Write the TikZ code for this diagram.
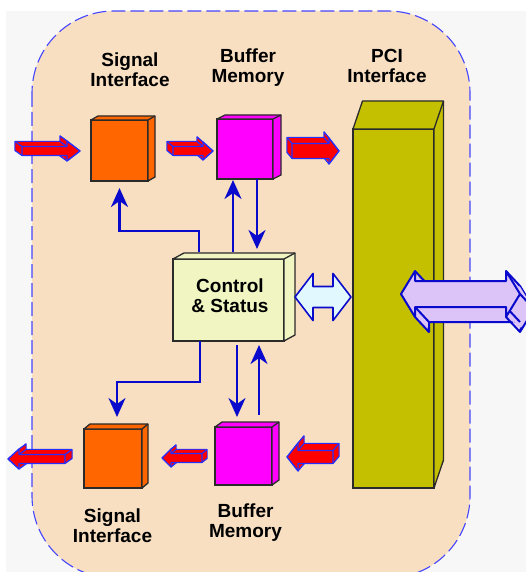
\documentclass[tikz,border=0pt]{standalone}
\usepackage{fontspec}
\setmainfont{Liberation Sans}
\usetikzlibrary{arrows.meta,calc}

\definecolor{peach}{HTML}{F8DFC2}
\definecolor{pagegrey}{HTML}{F7F7F7}
\definecolor{dashblue}{HTML}{4646FF}
\definecolor{boxedge}{HTML}{2A2A2A}
\definecolor{signalorange}{HTML}{FF6600}
\definecolor{buffermagenta}{HTML}{FF00FF}
\definecolor{pciolive}{HTML}{C4C000}
\definecolor{ctlpale}{HTML}{F0F5C2}
\definecolor{linkblue}{HTML}{0A0ACC}
\definecolor{arrowred}{HTML}{FF0000}
\definecolor{rimblue}{HTML}{2430FF}
\definecolor{busblue}{HTML}{E2F8FF}
\definecolor{buslilac}{HTML}{DCC4F8}

% top and side faces of a block drawn as a box
\newcommand\extrude[4]{%
  \filldraw[fill=#4, draw=boxedge, line width=1.3pt, line join=round]
    (#1.north west) -- ++(#2,#3) -- ([shift={(#2,#3)}]#1.north east)
    -- ([shift={(#2,#3)}]#1.south east) -- (#1.south east) -- (#1.north east) -- cycle;
  \draw[boxedge, line width=1.3pt] (#1.north east) -- ++(#2,#3);}

% solid red data arrow: tail point, direction, length, shaft half height,
% head half height, head length, depth x, depth y
\newcommand\solidarrow[8]{%
  \begin{scope}[shift={#1}, xscale=#2]
    \def\al{#3}\def\as{#4}\def\ah{#5}\def\ahl{#6}%
    \def\arrowoutline{(0,-\as) -- (\al-\ahl,-\as) -- (\al-\ahl,-\ah) -- (\al,0)
      -- (\al-\ahl,\ah) -- (\al-\ahl,\as) -- (0,\as) -- cycle}%
    \begin{scope}[shift={(-#7,-#8)}]\filldraw[rim] \arrowoutline;\end{scope}
    \foreach \stepno in {1,...,9}{%
      \begin{scope}[shift={(-\stepno*#7/10,-\stepno*#8/10)}]\fill[arrowred] \arrowoutline;\end{scope}}
    \foreach \vx/\vy in {0/-\as, \al-\ahl/-\as, \al-\ahl/-\ah, \al/0, \al-\ahl/\ah, \al-\ahl/\as, 0/\as}
      {\draw[rimline] (\vx,\vy) -- ++(-#7,-#8);}
    \filldraw[rim] \arrowoutline;
  \end{scope}}

\begin{document}
\begin{tikzpicture}[x=1pt,y=-1pt,
  block/.style 2 args={draw=boxedge, line width=1.3pt, inner sep=0pt, outer sep=0pt,
    minimum width=#1pt, minimum height=#2pt},
  caption/.style={font=\fontsize{19}{20}\selectfont\bfseries, align=center, inner sep=0pt},
  conn/.style={draw=linkblue, line width=2.8pt, -{Stealth[length=19pt,width=17pt,inset=6pt]}},
  rim/.style={fill=arrowred, draw=rimblue, line width=1.4pt, line join=round},
  rimline/.style={draw=rimblue, line width=1.2pt},
  bus/.style={fill=busblue, draw=linkblue, line width=1.6pt, line join=round},
  host/.style={fill=buslilac, draw=linkblue, line width=2pt, line join=round},
  hostline/.style={draw=linkblue, line width=2pt},
]
\useasboundingbox (0,0) rectangle (526,572);
\fill[white] (0,0) rectangle (526,572);
\fill[pagegrey] (6,11) rectangle (526,572);

% board outline
\path[fill=peach, draw=dashblue, dash pattern=on 14pt off 5pt, line width=1.1pt,
  rounded corners=82pt] (32,11) rectangle (470,578);

% blocks
\node[block={57}{61}, fill=signalorange] (sigA) at (119.5,150.5) {};
\extrude{sigA}{7}{-4}{signalorange}
\node[block={56}{60}, fill=buffermagenta] (bufA) at (245,149) {};
\extrude{bufA}{8}{-4}{buffermagenta}
\node[block={81}{359}, fill=pciolive] (pci) at (393.5,308.5) {};
\extrude{pci}{9.5}{-28}{pciolive}
\node[block={111}{82}, fill=ctlpale] (ctl) at (228.5,300) {};
\extrude{ctl}{11}{-6}{ctlpale}
\node[caption] (ctlText) at ([xshift=1.5pt,yshift=4pt]ctl.center) {Control\\\& Status};
\node[block={58}{59}, fill=signalorange] (sigB) at (113,458.5) {};
\extrude{sigB}{6}{-5}{signalorange}
\node[block={57}{58}, fill=buffermagenta] (bufB) at (243.5,456) {};
\extrude{bufB}{7}{-5}{buffermagenta}

% block names
\node[caption] (sigAname) at (130,70) {Signal\\Interface};
\node[caption] (bufAname) at (248,68) {Buffer\\Memory};
\node[caption] (pciname) at (387,66.2) {PCI\\Interface};
\node[caption] (sigBname) at (112.5,526) {Signal\\Interface};
\node[caption] (bufBname) at (245.5,523) {Buffer\\Memory};

% control links
\coordinate (c1) at ([xshift=-29.5pt,yshift=7pt]ctl.north);
\draw[conn, shorten >=7pt] (c1) -- ++(0,-21) -| (sigA.south);
\coordinate (c2) at ([xshift=4.5pt,yshift=7pt]ctl.north);
\draw[conn, shorten >=1pt] (c2) -- (c2 |- bufA.south);
\coordinate (c3) at ([xshift=12pt]bufA.south);
\draw[conn, shorten >=10pt] (c3) -- (c3 |- ctl.north);
\coordinate (c4) at ([xshift=-28.5pt]ctl.south);
\draw[conn, shorten >=12pt] (c4) -- ++(0,41) -| ([xshift=4pt]sigB.north);
\coordinate (c5) at ([xshift=8.5pt,yshift=-4pt]ctl.south);
\draw[conn, shorten >=10pt] (c5) -- (c5 |- bufB.north);
\coordinate (c6) at ([xshift=15.5pt,yshift=12pt]bufB.north);
\draw[conn, shorten >=4pt] (c6) -- (c6 |- ctl.south);

% data path
\solidarrow{($(sigA.west)+(-69,0.5)$)}{1}{58}{4.5}{10}{13}{7}{5}
\solidarrow{($(sigA.east)+(25,0.5)$)}{1}{40}{4.5}{9}{10}{6}{5}
\solidarrow{($(bufA.east)+(19,2)$)}{1}{47}{7.5}{13}{10}{5}{6}
\solidarrow{($(bufB.east)+(61,1)$)}{-1}{46}{6.5}{14}{11}{6}{7}
\solidarrow{($(bufB.west)+(-13,2)$)}{-1}{40}{4.5}{9}{9}{5}{4}
\solidarrow{($(sigB.west)+(-19,0.5)$)}{-1}{57}{4.5}{10}{11}{7}{5}

% local bus between control and PCI
\coordinate (busL) at ($(ctl.east)+(11,-3)$);
\coordinate (busR) at ($(pci.west |- busL)+(-2,0)$);
\draw[bus] (busL) -- ++(18,-23.5) -- ++(0,13) -- ($(busR)+(-18,-10.5)$) -- ++(0,-13)
  -- (busR) -- ++(-18,23.5) -- ++(0,-13) -- ($(busL)+(18,10.5)$) -- ++(0,13) -- cycle;

% host PCI bus
\coordinate (hostL) at ($(pci.center)+(7.5,-14.5)$);
\begin{scope}[shift={(hostL)}]
  \def\hostoutline{(0,0) -- (14,-23) -- (14,-13) -- (105,-13) -- (105,-23) -- (119,0)
    -- (105,23) -- (105,13) -- (14,13) -- (14,23) -- cycle}
  \begin{scope}[shift={(14,15)}]\filldraw[host] \hostoutline;\end{scope}
  \foreach \stepno in {1,...,9}{%
    \begin{scope}[shift={(\stepno*1.4,\stepno*1.5)}]\fill[buslilac] \hostoutline;\end{scope}}
  \foreach \vx/\vy in {0/0,14/-23,14/-13,105/-13,105/-23,119/0,105/23,105/13,14/13,14/23}
    {\draw[hostline] (\vx,\vy) -- ++(14,15);}
  \filldraw[host] \hostoutline;
\end{scope}
\end{tikzpicture}
\end{document}
